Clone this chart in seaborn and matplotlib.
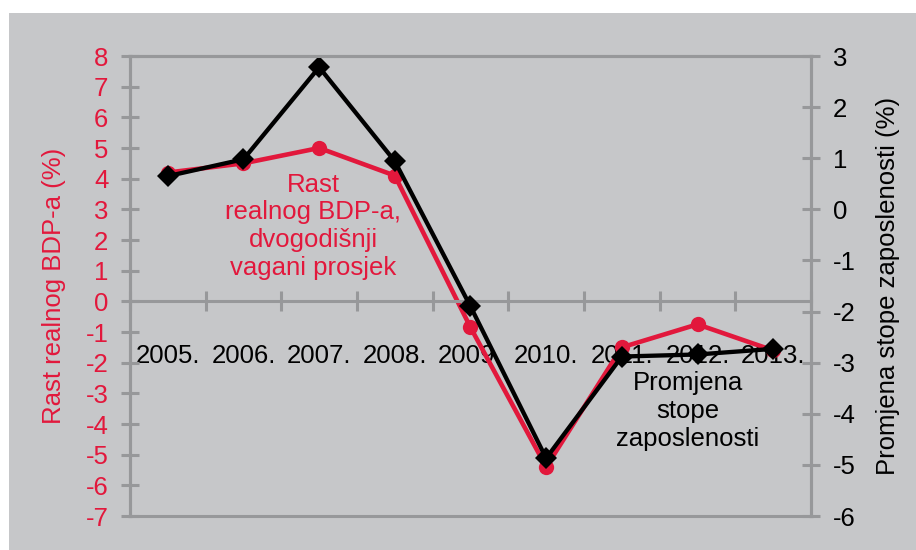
import matplotlib.pyplot as plt
import numpy as np
import pandas as pd
import seaborn as sns
from matplotlib.patches import Rectangle

YEARS = ["2005.", "2006.", "2007.", "2008.", "2009.", "2010.", "2011.", "2012.", "2013."]
GDP_GROWTH = [4.2, 4.5, 5.0, 4.1, -0.85, -5.4, -1.5, -0.75, -1.6]
EMPLOYMENT_CHANGE = [0.65, 0.98, 2.78, 0.94, -1.9, -4.87, -2.88, -2.84, -2.73]
LEFT_TICKS = list(range(-7, 9))
RIGHT_TICKS = list(range(-6, 4))

RED = "#e2183c"
GRAY_BG = "#c6c7c9"
SPINE = "#97989a"

plt.rcParams["font.family"] = ["Liberation Sans", "DejaVu Sans"]

df = pd.DataFrame({
    "pos": np.arange(len(YEARS)),
    "gdp": GDP_GROWTH,
    "emp": EMPLOYMENT_CHANGE,
})

fig = plt.figure(figsize=(9.16, 5.5), dpi=100)
fig.patches.append(Rectangle((9 / 916, 0), 1, 1 - 13 / 550, transform=fig.transFigure,
                             facecolor=GRAY_BG, edgecolor="none", zorder=-10))

ax = fig.add_axes([130 / 916, 1 - 516 / 550, 681 / 916, 460 / 550])
ax.set_facecolor("none")
ax2 = ax.twinx()

sns.lineplot(data=df, x="pos", y="gdp", ax=ax, color=RED, linewidth=3.3,
             marker="o", markersize=11, markeredgecolor=RED, markeredgewidth=0)
sns.lineplot(data=df, x="pos", y="emp", ax=ax2, color="black", linewidth=3.1,
             marker="D", markersize=11.5, markeredgecolor="black", markeredgewidth=0)

ax.set_xlim(-0.5, len(YEARS) - 0.5)
ax.set_ylim(LEFT_TICKS[0], LEFT_TICKS[-1])
ax2.set_ylim(RIGHT_TICKS[0], RIGHT_TICKS[-1])

for a in (ax, ax2):
    for side in a.spines:
        a.spines[side].set_color(SPINE)
        a.spines[side].set_linewidth(2.2)
ax.spines["bottom"].set_position(("data", 0))
ax2.spines["bottom"].set_zorder(0)

ax.set_yticks(LEFT_TICKS)
ax.set_yticklabels([str(t) for t in LEFT_TICKS])
ax.tick_params(axis="y", direction="inout", length=13, width=2.2, color=SPINE,
               labelcolor=RED, labelsize=18.5, pad=9)
ax2.set_yticks(RIGHT_TICKS)
ax2.set_yticklabels([str(t) for t in RIGHT_TICKS])
ax2.tick_params(axis="y", direction="inout", length=13, width=2.2, color=SPINE,
                labelcolor="black", labelsize=18.5, pad=9)

ax.set_xticks(np.arange(len(YEARS) + 1) - 0.5)
ax.set_xticklabels([])
ax.set_xticks(np.arange(len(YEARS)), minor=True)
ax.set_xticklabels(YEARS, minor=True)
ax.tick_params(axis="x", which="major", direction="inout", length=14, width=2.2, color=SPINE)
ax.tick_params(axis="x", which="minor", length=0, labelsize=18.5, pad=31)

ax.set_xlabel("")
ax.set_ylabel("Rast realnog BDP-a (%)", color=RED, fontsize=18.5, labelpad=14)
ax2.set_ylabel("Promjena stope zaposlenosti (%)", color="black", fontsize=18.5, labelpad=15)

ax.text(1.92, 2.45, "Rast\nrealnog BDP-a,\ndvogodišnji\nvagani prosjek", color=RED,
        fontsize=18.5, ha="center", va="center", linespacing=1.2)
ax2.text(6.87, -3.95, "Promjena\nstope\nzaposlenosti", color="black",
         fontsize=18.5, ha="center", va="center", linespacing=1.2)

fig.savefig("out.png", dpi=100, facecolor="white")
